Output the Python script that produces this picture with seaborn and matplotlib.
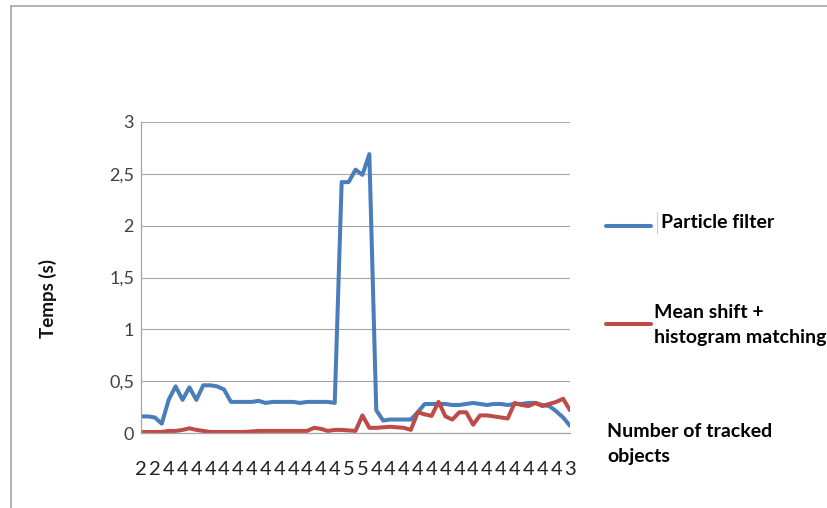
import numpy as np
import pandas as pd
import matplotlib
matplotlib.use('Agg')
import matplotlib.pyplot as plt
from matplotlib.lines import Line2D
import seaborn as sns

# Values (63 frames)
particle_filter = [0.16, 0.16, 0.15, 0.09, 0.32, 0.45, 0.32, 0.44, 0.32, 0.46,
                   0.46, 0.45, 0.42, 0.30, 0.30, 0.30, 0.30, 0.31, 0.29, 0.30,
                   0.30, 0.30, 0.30, 0.29, 0.30, 0.30, 0.30, 0.30, 0.29, 2.42,
                   2.42, 2.54, 2.49, 2.69, 0.22, 0.12, 0.13, 0.13, 0.13, 0.13,
                   0.20, 0.28, 0.28, 0.28, 0.28, 0.27, 0.27, 0.28, 0.29, 0.28,
                   0.27, 0.28, 0.28, 0.27, 0.28, 0.28, 0.29, 0.29, 0.27, 0.26,
                   0.21, 0.15, 0.07]
mean_shift = [0.01, 0.01, 0.01, 0.01, 0.02, 0.02, 0.03, 0.045, 0.03, 0.02,
              0.01, 0.01, 0.01, 0.01, 0.01, 0.01, 0.015, 0.02, 0.02, 0.02,
              0.02, 0.02, 0.02, 0.02, 0.02, 0.05, 0.04, 0.02, 0.03, 0.03,
              0.025, 0.02, 0.17, 0.05, 0.05, 0.055, 0.06, 0.055, 0.05, 0.03,
              0.20, 0.18, 0.165, 0.30, 0.16, 0.13, 0.20, 0.20, 0.08, 0.17,
              0.17, 0.16, 0.15, 0.14, 0.29, 0.27, 0.26, 0.29, 0.26, 0.28,
              0.30, 0.33, 0.22]
# number of tracked objects, shown for every other frame
tracked_labels = ['2', '2'] + ['4'] * 13 + ['5', '5'] + ['4'] * 14 + ['3']
series_names = ['Particle filter', 'Mean shift +\nhistogram matching']

frames = np.arange(len(particle_filter))
df = pd.DataFrame({
    'frame': np.concatenate([frames, frames]),
    'time': particle_filter + mean_shift,
    'method': [series_names[0]] * len(frames) + [series_names[1]] * len(frames),
})

sns.set_theme(style='white')
plt.rcParams['font.family'] = ['Lato', 'DejaVu Sans']

W, H = 827, 508
fig = plt.figure(figsize=(W / 100, H / 100), dpi=100)
ax = fig.add_axes([141 / W, 1 - 433 / H, (570 - 141) / W, (433 - 122) / H])

colors = ['#4A7EBB', '#BE4B48']
sns.lineplot(data=df, x='frame', y='time', hue='method', palette=colors,
             linewidth=2.9, ax=ax, legend=False)

ax.set_xlim(0, len(frames) - 1)
ax.set_ylim(0, 3)
ax.set_yticks(np.arange(0, 3.01, 0.5))
ax.set_yticklabels(['0', '0,5', '1', '1,5', '2', '2,5', '3'], fontsize=13, color='#404040')
ax.set_xticks(frames[::2])
ax.set_xticklabels(tracked_labels, fontsize=14.5, color='#222222')
ax.tick_params(axis='y', length=0, pad=5)
ax.tick_params(axis='x', length=0, pad=20)
ax.set_xlabel('')
ax.set_ylabel('')
ax.grid(axis='y', color='#A6A6A6', linewidth=0.8)
for side in ['top', 'right']:
    ax.spines[side].set_visible(False)
for side in ['left', 'bottom']:
    ax.spines[side].set_color('#A6A6A6')
    ax.spines[side].set_linewidth(0.9)

fig.text(48 / W, 1 - 299 / H, 'Temps (s)', rotation=90, ha='center', va='center',
         fontsize=13.5, fontweight='bold', color='#111111')

# legend drawn by hand, Excel style
for yy, col in [(226, colors[0]), (324, colors[1])]:
    fig.add_artist(Line2D([606 / W, 651 / W], [1 - yy / H, 1 - yy / H],
                          color=col, linewidth=2.9, solid_capstyle='round'))
fig.add_artist(Line2D([657 / W, 657 / W], [1 - 212 / H, 1 - 233 / H], color='#CCCCCC', linewidth=0.8))
fig.text(661 / W, 1 - 223 / H, series_names[0], ha='left', va='center',
         fontsize=14, fontweight='bold', color='black')
fig.text(654 / W, 1 - 325 / H, series_names[1], ha='left', va='center',
         fontsize=14, fontweight='bold', color='black', linespacing=1.6)
fig.text(607 / W, 1 - 444 / H, 'Number of tracked\nobjects', ha='left', va='center',
         fontsize=14, fontweight='bold', color='black', linespacing=1.6)

# chart frame (only left and top edges are visible in the crop)
fig.add_artist(Line2D([11 / W, 11 / W], [0, 1 - 6 / H], color='#A6A6A6', linewidth=1.2))
fig.add_artist(Line2D([11 / W, 1], [1 - 6 / H, 1 - 6 / H], color='#A6A6A6', linewidth=1.2))

fig.savefig('out.png', dpi=100, facecolor='white')
